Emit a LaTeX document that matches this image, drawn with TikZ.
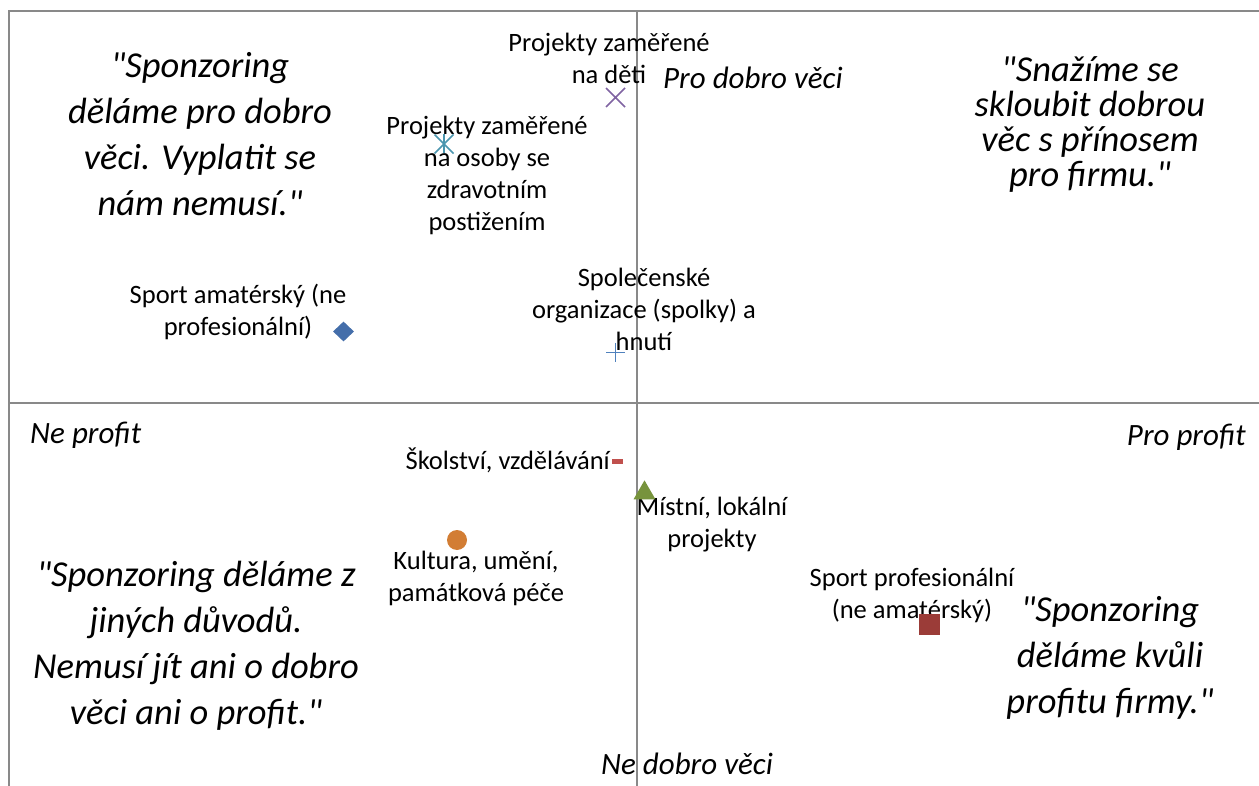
\documentclass[tikz,border=0pt]{standalone}
\usepackage{fontspec}
\setmainfont{Carlito}[Ligatures=TeXOff]
\usetikzlibrary{shapes.geometric,shapes.misc}
\definecolor{axisgray}{RGB}{137,137,137}
\definecolor{mpurple}{RGB}{128,100,162}
\definecolor{mteal}{RGB}{75,150,175}
\definecolor{mblue}{RGB}{79,129,189}
\definecolor{mdblue}{RGB}{68,110,170}
\definecolor{mred}{RGB}{192,80,77}
\definecolor{mdred}{RGB}{155,60,56}
\definecolor{mgreen}{RGB}{119,147,60}
\definecolor{morange}{RGB}{210,125,52}
\begin{document}
\begin{tikzpicture}[x=1pt,y=-1pt,
  axisline/.style={draw=axisgray,line width=2pt},
  lbl/.style={font=\fontsize{26.5}{32}\selectfont,align=center,inner sep=0pt},
  quotetxt/.style={font=\itshape\fontsize{36.5}{46}\selectfont,align=center,inner sep=0pt},
  axlbl/.style={font=\itshape\fontsize{31}{38}\selectfont,inner sep=0pt},
  mk/.style={inner sep=0pt,outer sep=0pt,minimum size=#1},
  mline/.style={draw=#1,line width=1.6pt}
]
\useasboundingbox (0,0) rectangle (1259,786);
% axes and frame
\coordinate (tl) at (9,11);
\coordinate (tr) at (1259,11);
\coordinate (bl) at (9,786);
\coordinate (ml) at (9,403);
\coordinate (mr) at (1259,403);
\coordinate (mt) at (637,11);
\coordinate (mb) at (637,786);
\draw[axisline] (bl) -- (tl) -- (tr);
\draw[axisline] (ml) -- (mr);
\draw[axisline] (mt) -- (mb);

% quadrant quotes
\node[quotetxt] (q1) at (200,134) {"Sponzoring\\děláme pro dobro\\věci. Vyplatit se\\nám nemusí."};
\node[quotetxt,font=\itshape\fontsize{36.5}{35}\selectfont] (q2) at (1090,124) {"Snažíme se\\skloubit dobrou\\věc s přínosem\\pro firmu."};
\node[quotetxt] (q3) at (196,646) {"Sponzoring děláme z\\jiných důvodů.\\Nemusí jít ani o dobro\\věci ani o profit."};
\node[quotetxt] (q4) at (1110,658) {"Sponzoring\\děláme kvůli\\profitu firmy."};

% axis labels
\node[axlbl,anchor=west] (a1) at (663,78) {Pro dobro věci};
\node[axlbl,anchor=west] (a2) at (30,435) {Ne profit};
\node[axlbl,anchor=east] (a3) at (1246,437) {Pro profit};
\node[axlbl] (a4) at (687,764) {Ne dobro věci};

% point labels
\node[lbl] (l1) at (609,58) {Projekty zaměřené\\na děti};
\node[lbl] (l2) at (487,175) {Projekty zaměřené\\na osoby se\\zdravotním\\postižením};
\node[lbl] (l3) at (644,309) {Společenské\\organizace (spolky) a\\hnutí};
\node[lbl] (l4) at (238,312) {Sport amatérský (ne\\profesionální)};
\node[lbl,anchor=east] (l5) at (610,460) {Školství, vzdělávání};
\node[lbl] (l6) at (712,525) {Místní, lokální\\projekty};
\node[lbl] (l7) at (476,578) {Kultura, umění,\\památková péče};
\node[lbl] (l8) at (912,595) {Sport profesionální\\(ne amatérský)};

% markers
\node[mk=19pt,cross out,mline=mpurple] (m1) at (615.5,97.5) {};
\node[mk=19pt,cross out,mline=mteal] (m2) at (444,144) {};
\draw[mline=mteal] (m2.north) -- (m2.south);
\node[mk=19pt] (m3) at (615.5,352.5) {};
\draw[mline=mblue] (m3.north) -- (m3.south) (m3.west) -- (m3.east);
\node[diamond,fill=mdblue,inner sep=0pt,minimum width=21pt,minimum height=20pt] (m4) at (343.5,331.5) {};
\node[rectangle,fill=mred,inner sep=0pt,minimum width=11pt,minimum height=5pt] (m5) at (617.5,461.5) {};
\node[isosceles triangle,isosceles triangle apex angle=60,shape border rotate=90,fill=mgreen,inner sep=0pt,minimum height=19pt] (m6) at (644.5,493) {};
\node[circle,fill=morange,inner sep=0pt,minimum size=20pt] (m7) at (457,540) {};
\node[rectangle,fill=mdred,inner sep=0pt,minimum size=21pt] (m8) at (929,624) {};
\end{tikzpicture}
\end{document}
